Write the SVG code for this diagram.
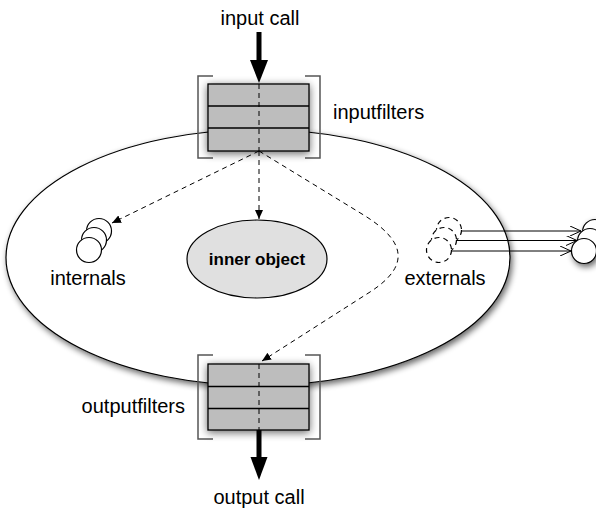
<svg xmlns="http://www.w3.org/2000/svg" width="596" height="508" viewBox="0 0 596 508">
<defs>
<style>
.lbl{font-family:"Liberation Sans",Arial,sans-serif;font-size:20px;fill:#000}
.bold{font-family:"Liberation Sans",Arial,sans-serif;font-size:17px;font-weight:bold;fill:#000}
.box{fill:#bdbdbd;stroke:#000;stroke-width:1.3}
.brk{fill:none;stroke:#555;stroke-width:1.5}
.dash{fill:none;stroke:#000;stroke-width:1;stroke-dasharray:5,4}
.circ{fill:#fff;stroke:#000;stroke-width:1.2}
.dcirc{fill:#fff;stroke:#000;stroke-width:1.2;stroke-dasharray:5,4}
.thick{stroke:#000;stroke-width:5;fill:none}
</style>
<filter id="sh" x="-20%" y="-20%" width="140%" height="150%">
<feGaussianBlur in="SourceAlpha" stdDeviation="3"/>
<feOffset dx="2" dy="3" result="b"/>
<feComponentTransfer><feFuncA type="linear" slope="0.6"/></feComponentTransfer>
<feMerge><feMergeNode/><feMergeNode in="SourceGraphic"/></feMerge>
</filter>
<filter id="bsh" x="-30%" y="-30%" width="160%" height="160%">
<feGaussianBlur in="SourceAlpha" stdDeviation="4"/>
<feOffset dx="0" dy="2" result="b"/>
<feComponentTransfer><feFuncA type="linear" slope="0.6"/></feComponentTransfer>
<feMerge><feMergeNode/><feMergeNode in="SourceGraphic"/></feMerge>
</filter>
<marker id="ah" markerWidth="10" markerHeight="8" refX="9" refY="4" orient="auto" markerUnits="userSpaceOnUse">
<path d="M0,0 L9,4 L0,8 Z" fill="#000"/>
</marker>
<marker id="oh" markerWidth="12" markerHeight="10" refX="11" refY="5" orient="auto" markerUnits="userSpaceOnUse">
<path d="M0,0 L11,5 L0,10" fill="none" stroke="#000" stroke-width="1"/>
</marker>
</defs>
<rect width="596" height="508" fill="#fff"/>

<g id="outer-object">
<ellipse cx="258" cy="257.5" rx="252" ry="128" fill="#fff" stroke="#000" stroke-width="1.2" filter="url(#sh)"/>
</g>

<g id="inner-object">
<ellipse cx="257" cy="259" rx="70" ry="39" fill="#e0e0e0" stroke="#000" stroke-width="1.2"/>
<text class="bold" x="257" y="265" text-anchor="middle">inner object</text>
</g>

<g id="internals">
<circle class="circ" cx="99" cy="231" r="12.5"/>
<circle class="circ" cx="94" cy="240" r="12.5"/>
<circle class="circ" cx="89" cy="250" r="12.5"/>
<text class="lbl" x="88" y="285" text-anchor="middle">internals</text>
</g>

<g id="externals">
<circle class="dcirc" cx="449" cy="230" r="12.5"/>
<circle class="dcirc" cx="444" cy="240" r="12.5"/>
<circle class="dcirc" cx="439" cy="250" r="12.5"/>
<text class="lbl" x="445" y="285" text-anchor="middle">externals</text>
</g>

<g id="external-objects" filter="url(#sh)">
<circle class="circ" cx="595" cy="232" r="12.5"/>
<circle class="circ" cx="590" cy="241" r="12.5"/>
<circle class="circ" cx="584" cy="251" r="12.5"/>
</g>

<g id="inputfilters">
<path class="brk" d="M213,76 H198 V158 H213 M305,76 H320 V158 H305"/>
<g filter="url(#bsh)">
<rect class="box" x="208" y="84" width="101" height="67"/>
</g>
<line x1="208" y1="106" x2="309" y2="106" stroke="#000" stroke-width="1.3"/>
<line x1="208" y1="128" x2="309" y2="128" stroke="#000" stroke-width="1.3"/>
<text class="lbl" x="333" y="119">inputfilters</text>
</g>

<g id="outputfilters">
<path class="brk" d="M213,355 H198 V439 H213 M305,355 H320 V439 H305"/>
<g filter="url(#bsh)">
<rect class="box" x="208" y="364" width="101" height="66"/>
</g>
<line x1="208" y1="386.5" x2="309" y2="386.5" stroke="#000" stroke-width="1.3"/>
<line x1="208" y1="408.5" x2="309" y2="408.5" stroke="#000" stroke-width="1.3"/>
<text class="lbl" x="185" y="413" text-anchor="end">outputfilters</text>
</g>

<g id="input-call">
<text class="lbl" x="260" y="25" text-anchor="middle">input call</text>
</g>
<g id="output-call">
<text class="lbl" x="259" y="504" text-anchor="middle">output call</text>
</g>

<g id="connectors">
<line class="thick" x1="259" y1="32" x2="259" y2="62"/>
<path d="M250,60 L268,60 L259,83 Z" fill="#000"/>
<line class="thick" x1="259" y1="430" x2="259" y2="459"/>
<path d="M250.5,457 L267.5,457 L259,480 Z" fill="#000"/>
<line class="dash" x1="259" y1="84" x2="259" y2="151"/>
<line class="dash" x1="259" y1="364" x2="259" y2="430"/>
<line class="dash" x1="259" y1="151" x2="259" y2="219" marker-end="url(#ah)"/>
<line class="dash" x1="259" y1="151" x2="112" y2="223" marker-end="url(#ah)"/>
<path class="dash" d="M259,151 L362,214 C405,240 412,265 370,292 L262,361" marker-end="url(#ah)"/>
<line x1="461.5" y1="231" x2="581" y2="231" stroke="#000" stroke-width="1" marker-end="url(#oh)"/>
<line x1="456.5" y1="240.5" x2="577" y2="240.5" stroke="#000" stroke-width="1" marker-end="url(#oh)"/>
<line x1="451.5" y1="251" x2="571" y2="251" stroke="#000" stroke-width="1" marker-end="url(#oh)"/>
</g>
</svg>
